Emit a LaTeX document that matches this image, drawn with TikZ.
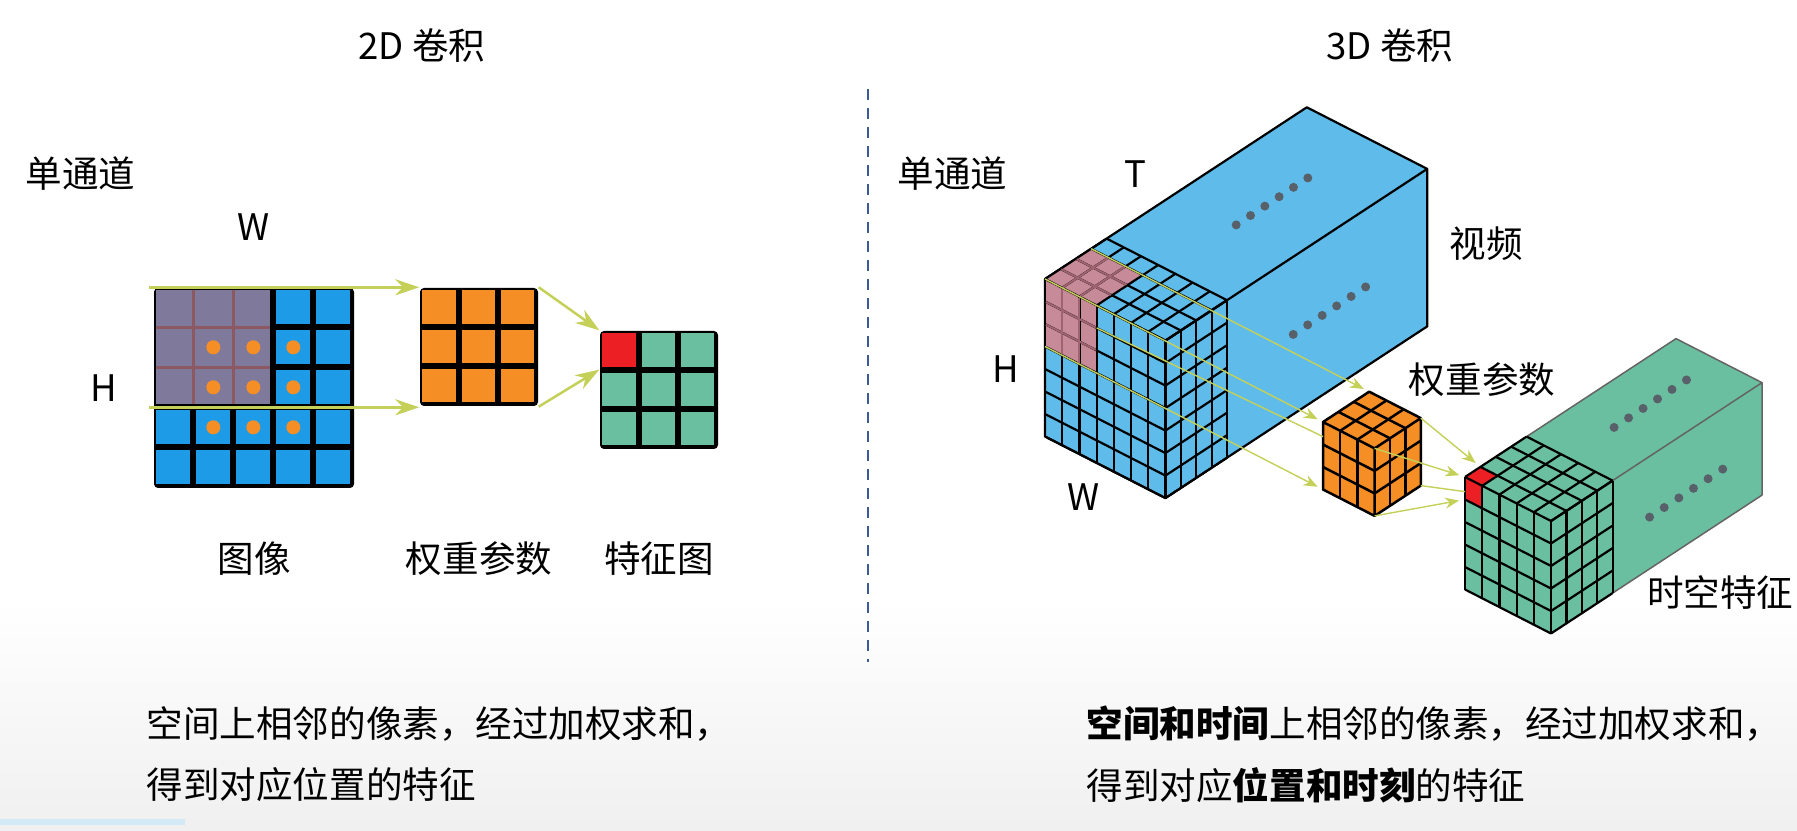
\documentclass[tikz,border=0pt]{standalone}
\usepackage{fontspec}
\setmainfont{Noto Sans CJK SC}
\usepackage{tikz}
\usetikzlibrary{arrows.meta,positioning,calc}

\definecolor{pixblue}{RGB}{30,155,230}
\definecolor{winpurple}{RGB}{127,122,155}
\definecolor{winline}{RGB}{140,88,98}
\definecolor{kernorange}{RGB}{246,142,38}
\definecolor{featgreen}{RGB}{106,191,160}
\definecolor{hitred}{RGB}{236,32,36}
\definecolor{arrowgreen}{RGB}{196,208,88}
\definecolor{vidblue}{RGB}{95,188,234}
\definecolor{patchpink}{RGB}{199,138,152}
\definecolor{patchline}{RGB}{160,100,112}
\definecolor{dotgray}{RGB}{88,96,106}
\definecolor{sepblue}{RGB}{60,90,150}
\definecolor{edgegray}{RGB}{100,100,100}
\definecolor{barblue}{RGB}{211,233,245}

\tikzset{
  lbl/.style={font=\fontsize{10.4}{12.5}\selectfont, inner sep=0pt},
  iso/.style={x={(1.72mm,-0.88mm)}, y={(0mm,-2.25mm)}, z={(1.54mm,1.01mm)}},
  flat/.style={fill=black, inner sep=0pt, rounded corners=0.4mm},
  edge3d/.style={black, line width=0.22mm, line join=round},
  flow/.style={arrowgreen, line width=0.25mm, -{Stealth[length=2.4mm, width=1.6mm]}},
  thinflow/.style={arrowgreen, line width=0.14mm, shorten >=0.6mm, -{Stealth[length=1.4mm, width=1.1mm]}},
}

\begin{document}
\begin{tikzpicture}[x=0.1mm, y=-0.1mm, >=Stealth, node distance=5mm and 5mm]
\useasboundingbox (0,0) rectangle (1797,831);
\shade[top color=white, bottom color=black!6] (0,600) rectangle (1797,831);
\fill[barblue] (0,819) rectangle (185,825);

  % Titles and separator
  \node[lbl] (title2d) at (422,46) {2D 卷积};
  \node[lbl] (title3d) at (1390,46) {3D 卷积};
  \coordinate (septop) at (868,89);
  \coordinate (sepbot) at (868,662);
  \draw[sepblue, line width=0.25mm, dash pattern=on 1.1mm off 0.8mm] (septop) -- (sepbot);

  % Define nodes (2D)
  \node[flat, minimum size=20mm] (img) at (254,388) {};
  \node[flat, minimum size=11.8mm] (kern) at (479,347) {};
  \node[flat, minimum size=11.8mm] (feat) at (659,390) {};

  \foreach \c in {0,...,4}
    \foreach \r in {0,...,4}
      \fill[pixblue] ($(img.north west)+(\c*40+3,\r*40+3)$) rectangle +(34,34);
  \fill[winpurple] ($(img.north west)+(3,3)$) rectangle +(114,114);
  \foreach \k in {40,80} {
    \draw[winline, line width=0.3mm] ($(img.north west)+(\k,3)$) -- +(0,114);
    \draw[winline, line width=0.3mm] ($(img.north west)+(3,\k)$) -- +(114,0);
  }
  \foreach \c in {1,2,3}
    \foreach \r in {1,2,3}
      \fill[kernorange] ($(img.north west)+(\c*40+20,\r*40+20)$) circle[radius=0.7mm];
  \foreach \c in {0,1,2}
    \foreach \r in {0,1,2} {
      \fill[kernorange] ($(kern.north west)+(\c*39.33+3,\r*39.33+3)$) rectangle +(33.3,33.3);
      \fill[featgreen] ($(feat.north west)+(\c*39.33+3,\r*39.33+3)$) rectangle +(33.3,33.3);
    }
  \fill[hitred] ($(feat.north west)+(3,3)$) rectangle +(33.3,33.3);

  \coordinate (imgtop) at ($(img.north west)+(-4,0)$);
  \coordinate (imgcut) at ($(img.north west)+(-4,120)$);
  \coordinate (redsw) at ($(feat.north west)+(0,39.33)$);

  % Draw arrows (2D)
  \draw[flow] (imgtop) -- (imgtop -| kern.west);
  \draw[flow] (imgcut) -- (imgcut -| kern.west);
  \draw[flow] (kern.north east) -- (feat.north west);
  \draw[flow] (kern.south east) -- (redsw);

  % Add labels (2D)
  \node[lbl, anchor=west] (chan2d) at (25,174) {单通道};
  \node[lbl] (wlab2d) [above=4.6mm of img] {W};
  \node[lbl] (hlab2d) [left=3.5mm of img] {H};
  \node[lbl] (imglab) [below=5.2mm of img] {图像};
  \node[lbl] (kernlab) at (kern |- imglab) {权重参数};
  \node[lbl] (featlab) at (feat |- imglab) {特征图};

  % Video volume
  \begin{scope}[shift={(1045,279)}, iso]
    \filldraw[vidblue, draw=black, line width=0.22mm, line join=round]
      (0,0,0) -- (7,0,0) -- (7,0,17) -- (0,0,17) -- cycle
      (7,0,0) -- (7,7,0) -- (7,7,17) -- (7,0,17) -- cycle
      (0,0,0) -- (7,0,0) -- (7,7,0) -- (0,7,0) -- cycle;
    \fill[patchpink] (0,0,0) -- (3,0,0) -- (3,3,0) -- (0,3,0) -- cycle;
    \fill[patchpink] (0,0,0) -- (3,0,0) -- (3,0,3) -- (0,0,3) -- cycle;
    \foreach \i in {0,...,7} {
      \draw[edge3d] (\i,0,0) -- (\i,7,0);
      \draw[edge3d] (0,\i,0) -- (7,\i,0);
      \draw[edge3d] (\i,0,0) -- (\i,0,4);
      \draw[edge3d] (7,\i,0) -- (7,\i,4);
    }
    \foreach \k in {1,...,4} {
      \draw[edge3d] (0,0,\k) -- (7,0,\k);
      \draw[edge3d] (7,0,\k) -- (7,7,\k);
    }
    \foreach \k in {1,2} {
      \draw[patchline, line width=0.2mm] (\k,0.05,0) -- (\k,2.95,0);
      \draw[patchline, line width=0.2mm] (0.05,\k,0) -- (2.95,\k,0);
      \draw[patchline, line width=0.2mm] (\k,0,0.05) -- (\k,0,2.95);
      \draw[patchline, line width=0.2mm] (0.05,0,\k) -- (2.95,0,\k);
    }
    \foreach \k in {0,...,5} {
      \fill[dotgray] (3.55,0,8.45+0.93*\k) circle[radius=0.45mm];
      \fill[dotgray] (7,3.45,8.3+0.94*\k) circle[radius=0.45mm];
    }
    \coordinate (pA) at (0,0,0);
    \coordinate (pT) at (0,0,3);
    \coordinate (pH) at (0,3,0);
    \coordinate (pM) at (3,1,0);
  \end{scope}

  % Kernel cube
  \begin{scope}[shift={(1323,422)}, iso]
    \filldraw[kernorange, draw=black, line width=0.25mm, line join=round]
      (0,0,0) -- (3,0,0) -- (3,3,0) -- (0,3,0) -- cycle
      (0,0,0) -- (3,0,0) -- (3,0,3) -- (0,0,3) -- cycle
      (3,0,0) -- (3,3,0) -- (3,3,3) -- (3,0,3) -- cycle;
    \foreach \k in {1,2} {
      \draw[edge3d, line width=0.25mm] (\k,0,0) -- (\k,3,0);
      \draw[edge3d, line width=0.25mm] (0,\k,0) -- (3,\k,0);
      \draw[edge3d, line width=0.25mm] (\k,0,0) -- (\k,0,3);
      \draw[edge3d, line width=0.25mm] (0,0,\k) -- (3,0,\k);
      \draw[edge3d, line width=0.25mm] (3,0,\k) -- (3,3,\k);
      \draw[edge3d, line width=0.25mm] (3,\k,0) -- (3,\k,3);
    }
    \coordinate (kA) at (0,0,0);
    \coordinate (kT) at (0,0,3);
    \coordinate (kH) at (0,3,0);
    \coordinate (kM) at (0,0.65,0);
    \coordinate (kW) at (3,0,0);
    \coordinate (kWT) at (3,0,3);
    \coordinate (kWH) at (3,3,0);
    \coordinate (kWHT) at (3,3,3);
  \end{scope}

  % Feature volume
  \begin{scope}[shift={(1465,477)}, iso]
    \fill[featgreen]
      (0,0,0) -- (5,0,0) -- (5,0,13.7) -- (0,0,13.7) -- cycle
      (5,0,0) -- (5,5,0) -- (5,5,13.7) -- (5,0,13.7) -- cycle
      (0,0,0) -- (5,0,0) -- (5,5,0) -- (0,5,0) -- cycle;
    \draw[edgegray, line width=0.15mm, line join=round]
      (0,0,4) -- (0,0,13.7) -- (5,0,13.7) -- (5,5,13.7) -- (5,5,4)
      (5,0,4) -- (5,0,13.7);
    \fill[hitred] (0,0,0) -- (1,0,0) -- (1,1,0) -- (0,1,0) -- cycle;
    \fill[hitred] (0,0,0) -- (1,0,0) -- (1,0,1) -- (0,0,1) -- cycle;
    \foreach \i in {0,...,5} {
      \draw[edge3d] (\i,0,0) -- (\i,5,0);
      \draw[edge3d] (0,\i,0) -- (5,\i,0);
      \draw[edge3d] (\i,0,0) -- (\i,0,4);
      \draw[edge3d] (5,\i,0) -- (5,\i,4);
    }
    \foreach \k in {1,...,4} {
      \draw[edge3d] (0,0,\k) -- (5,0,\k);
      \draw[edge3d] (5,0,\k) -- (5,5,\k);
    }
    \foreach \k in {0,...,5} {
      \fill[dotgray] (2.4,0,7.0+0.94*\k) circle[radius=0.45mm];
      \fill[dotgray] (5,2.7,6.4+0.95*\k) circle[radius=0.45mm];
    }
    \coordinate (rA) at (0,0,0);
    \coordinate (rT) at (0,0,1);
    \coordinate (rH) at (0,1,0);
    \coordinate (rM) at (0,0.65,0);
  \end{scope}

  % Draw arrows (3D)
  \draw[thinflow] (pT) -- (kT);
  \draw[thinflow] (pA) -- (kA);
  \draw[arrowgreen, line width=0.14mm] (pM) -- (kM);
  \draw[thinflow] (pH) -- (kH);
  \draw[thinflow] (kWT) -- (rT);
  \draw[thinflow] (kW) -- (rA);
  \draw[arrowgreen, line width=0.14mm] (kWHT) -- (rM);
  \draw[thinflow] (kWH) -- (rH);

  % Add labels (3D)
  \node[lbl, anchor=west] (chan3d) at (897,174) {单通道};
  \node[lbl] (tlab) at (1135,174) {T};
  \node[lbl] (vidlab) at (1486,244) {视频};
  \node[lbl] (hlab3d) at (1006,369) {H};
  \node[lbl] (wlab3d) at (1084,497) {W};
  \node[lbl] (kernlab3d) at (1482,380) {权重参数};
  \node[lbl, anchor=east] (featlab3d) at (1794,592) {时空特征};

  % Captions
  \node[lbl, anchor=west] (descL1) at (146,724) {空间上相邻的像素，经过加权求和，};
  \node[lbl, anchor=west] (descL2) at (146,785) {得到对应位置的特征};
  \node[lbl, anchor=west] (descR1) at (1086,724) {\textbf{空间和时间}上相邻的像素，经过加权求和，};
  \node[lbl, anchor=west] (descR2) at (1086,785) {得到对应\textbf{位置和时刻}的特征};
\end{tikzpicture}
\end{document}
